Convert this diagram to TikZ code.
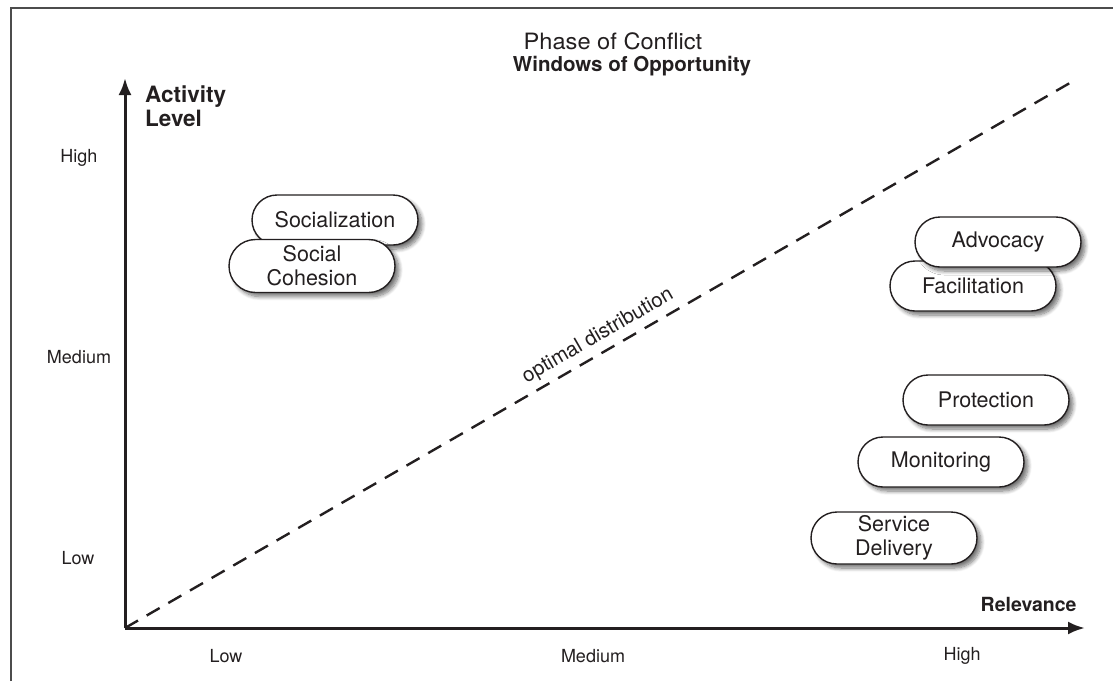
\documentclass[tikz,border=0pt]{standalone}
\usepackage{fontspec}
\setmainfont{TeX Gyre Heros}
\newfontfamily\regfont{TeX Gyre Heros}[FakeStretch=1.05]
\usetikzlibrary{arrows.meta,shapes.misc,shadows.blur}
\definecolor{ink}{HTML}{231F20}
\tikzset{
  pill/.style={rounded rectangle, draw=ink, line width=1.4pt, fill=white,
    minimum width=170pt, minimum height=50pt, inner sep=2pt, align=center,
    font=\fontsize{21.5}{24}\selectfont, text=ink,
    blur shadow={shadow xshift=4pt, shadow yshift=-4pt, shadow blur steps=8,
      shadow blur radius=4pt, shadow opacity=55}},
  axis/.style={line width=3pt, draw=ink, -{Latex[length=17pt,width=13pt]}},
  tick/.style={font=\fontsize{18}{20}\selectfont, text=ink},
  axlabel/.style={font=\bfseries\fontsize{22.5}{24}\selectfont, text=ink},
  frame/.style={line width=2pt, draw=black!70},
}
\begin{document}
\begin{tikzpicture}[x=1pt,y=-1pt]
\useasboundingbox (0,0) rectangle (1113,681);
\draw[frame] (11,681) -- (11,8) -- (1113,8);
% title
\node[font=\regfont\fontsize{22.5}{24}\selectfont, text=ink] (t1) at (613,41) {Phase of Conflict};
\node[font=\bfseries\fontsize{20.5}{24}\selectfont, text=ink] (t2) at (632,66) {Windows of Opportunity};
% axes
\coordinate (o) at (125,628);
\coordinate (ytip) at (125,78);
\coordinate (xtip) at (1085,628);
\draw[axis] (o) -- (ytip);
\draw[axis] (o) -- (xtip);
% dashed line
\coordinate (dend) at (1075,80);
\draw[line width=2.4pt, draw=ink, dash pattern=on 15pt off 10pt] (o) -- (dend);
\node[font=\fontsize{20.5}{22}\selectfont, text=ink, rotate=30] (opt) at (598,336) {optimal distribution};
% axis labels
\node[axlabel, anchor=north west, align=left, inner sep=0pt] (al) at (145,86) {Activity\\Level};
\node[axlabel, anchor=east, font=\bfseries\fontsize{19.5}{24}\selectfont] (rel) at (1080,604) {Relevance};
\node[tick] (yh) at (79,158) {High};
\node[tick] (ym) at (79,357) {Medium};
\node[tick] (yl) at (78,558) {Low};
\node[tick] (xl) at (226,656) {Low};
\node[tick] (xm) at (593,656) {Medium};
\node[tick] (xh) at (962,656) {High};
% pills
\node[pill] (soc) at (335,220) {Socialization};
\node[pill, minimum height=53pt] (coh) at (312,266) {Social\\Cohesion};
\node[pill] (fac) at (973,286) {Facilitation};
\node[pill] (adv) at (998,242) {Advocacy};
\node[pill] (pro) at (986,400) {Protection};
\node[pill] (mon) at (941,462) {Monitoring};
\node[pill, minimum height=52pt] (sd) at (894,538) {Service\\Delivery};
\end{tikzpicture}
\end{document}
